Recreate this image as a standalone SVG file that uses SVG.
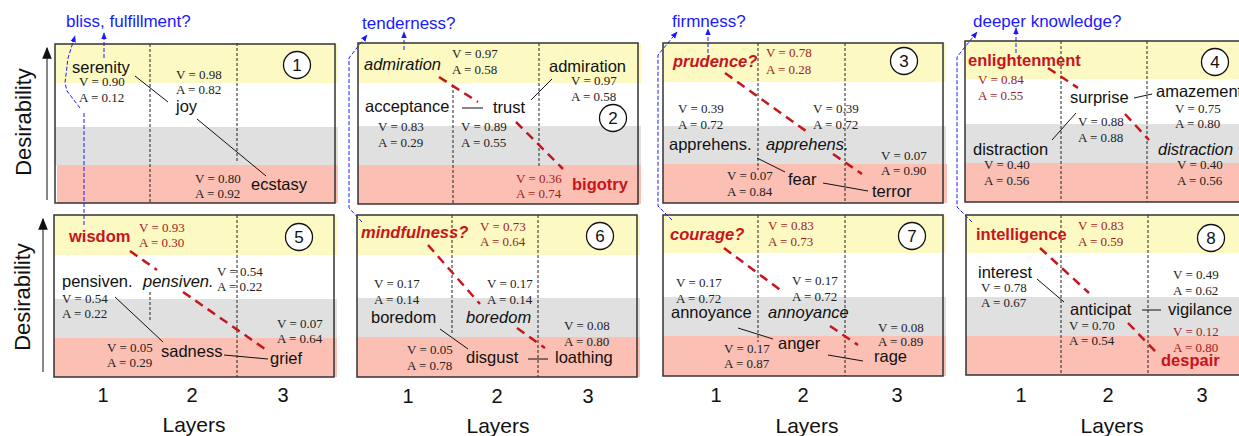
<svg xmlns="http://www.w3.org/2000/svg" width="1239" height="436" viewBox="0 0 1239 436">
<defs>
<style>
.lb{font-family:"Liberation Sans",Arial,sans-serif;font-size:16.5px;fill:#111}
.it{font-style:italic}
.rb{font-weight:bold;fill:#c8141c}
.v{font-family:"Liberation Serif","Times New Roman",serif;font-size:13px;fill:#222}
.vr{fill:#a01c1c}
.bt{font-family:"Liberation Sans",Arial,sans-serif;font-size:17px;fill:#1a1aff}
.num{font-family:"Liberation Sans",Arial,sans-serif;font-size:20px;fill:#111;text-anchor:middle}
.ax{font-family:"Liberation Sans",Arial,sans-serif;font-size:21px;fill:#111;text-anchor:middle}
.ds{font-family:"Liberation Sans",Arial,sans-serif;font-size:22px;fill:#111;text-anchor:middle}
.cn{font-family:"Liberation Sans",Arial,sans-serif;font-size:17px;fill:#111;text-anchor:middle}
.yb{fill:#fcf9c2}.wb{fill:#ffffff}.gb{fill:#e0e0e0}.pb{fill:#fbbfb4}
.box{fill:none;stroke:#333;stroke-width:1.5}
.dv{stroke:#222;stroke-width:1;stroke-dasharray:3,2;fill:none}
.bk{stroke:#111;stroke-width:1;fill:none}
.rd{stroke:#c8141c;stroke-width:2.5;stroke-dasharray:9,6;fill:none}
.bd{stroke:#1a1aff;stroke-width:1;stroke-dasharray:4,2;fill:none}
.ci{fill:#fff;stroke:#111;stroke-width:1.3}
</style>
<marker id="ba" viewBox="0 0 10 10" refX="9" refY="5" markerWidth="7" markerHeight="7" orient="auto-start-reverse" markerUnits="userSpaceOnUse"><path d="M0,1 L10,5 L0,9 z" fill="#1a1aff"/></marker>
<marker id="ka" viewBox="0 0 10 10" refX="9" refY="5" markerWidth="12" markerHeight="12" orient="auto" markerUnits="userSpaceOnUse"><path d="M0,1 L10,5 L0,9 z" fill="#111"/></marker>
</defs>
<rect width="1239" height="436" fill="#fff"/>

<!-- axes -->
<g id="axes">
<line x1="47" y1="200" x2="47" y2="48" class="bk" marker-end="url(#ka)"/>
<text class="ds" transform="translate(31,122) rotate(-90)">Desirability</text>
<line x1="43" y1="372" x2="43" y2="219" class="bk" marker-end="url(#ka)"/>
<text class="ds" transform="translate(30,297) rotate(-90)">Desirability</text>
<text class="num" x="103" y="402">1</text><text class="num" x="192" y="402">2</text><text class="num" x="283" y="402">3</text>
<text class="num" x="408" y="403">1</text><text class="num" x="497" y="403">2</text><text class="num" x="588" y="403">3</text>
<text class="num" x="716" y="402">1</text><text class="num" x="803" y="402">2</text><text class="num" x="897" y="402">3</text>
<text class="num" x="1021" y="402">1</text><text class="num" x="1108" y="402">2</text><text class="num" x="1202" y="402">3</text>
<text class="ax" x="194" y="432">Layers</text>
<text class="ax" x="498" y="433">Layers</text>
<text class="ax" x="807" y="433">Layers</text>
<text class="ax" x="1112" y="433">Layers</text>
</g>

<!-- panel backgrounds -->
<g id="bands">
<rect class="yb" x="55" y="44" width="283" height="39"/><rect class="wb" x="55" y="83" width="283" height="44"/><rect class="gb" x="55" y="127" width="283" height="38"/><rect class="pb" x="57" y="165" width="281" height="38"/>
<rect class="yb" x="358" y="43" width="283" height="40"/><rect class="wb" x="358" y="83" width="283" height="43"/><rect class="gb" x="358" y="126" width="283" height="39"/><rect class="pb" x="358" y="165" width="283" height="39"/>
<rect class="yb" x="663" y="43" width="283" height="39"/><rect class="wb" x="663" y="82" width="283" height="44"/><rect class="gb" x="663" y="126" width="283" height="38"/><rect class="pb" x="663" y="164" width="284" height="39"/>
<rect class="yb" x="965" y="41" width="280" height="38"/><rect class="wb" x="965" y="79" width="280" height="45"/><rect class="gb" x="965" y="124" width="280" height="39"/><rect class="pb" x="965" y="163" width="280" height="39"/>
<rect class="yb" x="54" y="215" width="283" height="40"/><rect class="wb" x="54" y="255" width="283" height="44"/><rect class="gb" x="54" y="299" width="283" height="39"/><rect class="pb" x="54" y="338" width="283" height="39"/>
<rect class="yb" x="357" y="215" width="283" height="40"/><rect class="wb" x="357" y="255" width="283" height="43"/><rect class="gb" x="357" y="298" width="283" height="39"/><rect class="pb" x="357" y="337" width="283" height="40"/>
<rect class="yb" x="663" y="215" width="283" height="38"/><rect class="wb" x="663" y="253" width="283" height="44"/><rect class="gb" x="663" y="297" width="283" height="39"/><rect class="pb" x="663" y="336" width="283" height="40"/>
<rect class="yb" x="966" y="215" width="280" height="38"/><rect class="wb" x="966" y="253" width="280" height="44"/><rect class="gb" x="966" y="297" width="280" height="39"/><rect class="pb" x="966" y="336" width="280" height="39"/>
</g>

<g id="layer-dividers">
<line class="dv" x1="150" y1="44" x2="150" y2="203"/><line class="dv" x1="237" y1="43" x2="237" y2="163"/>
<line class="dv" x1="453" y1="85" x2="453" y2="205"/><line class="dv" x1="539" y1="43" x2="539" y2="167"/>
<line class="dv" x1="758" y1="43" x2="758" y2="170"/><line class="dv" x1="845" y1="43" x2="845" y2="203"/>
<line class="dv" x1="1061" y1="41" x2="1061" y2="202"/><line class="dv" x1="1147" y1="41" x2="1147" y2="202"/>
<line class="dv" x1="150" y1="292" x2="150" y2="322"/><line class="dv" x1="237" y1="215" x2="237" y2="377"/>
<line class="dv" x1="452" y1="215" x2="452" y2="335"/><line class="dv" x1="538" y1="215" x2="538" y2="377"/>
<line class="dv" x1="758" y1="215" x2="758" y2="342"/><line class="dv" x1="845" y1="215" x2="845" y2="376"/>
<line class="dv" x1="1061" y1="215" x2="1061" y2="375"/><line class="dv" x1="1148" y1="215" x2="1148" y2="375"/>
</g>

<g id="connectors">
<!-- black -->
<line class="bk" x1="135" y1="76" x2="168" y2="102"/>
<line class="bk" x1="197" y1="119" x2="266" y2="176"/>
<line class="bk" x1="462" y1="108" x2="483" y2="108"/>
<line class="bk" x1="531" y1="100" x2="552" y2="79"/>
<line class="bk" x1="757" y1="158" x2="785" y2="172"/>
<line class="bk" x1="823" y1="183" x2="868" y2="191"/>
<line class="bk" x1="1134" y1="98" x2="1152" y2="94"/>
<line class="bk" x1="1076" y1="113" x2="1052" y2="140"/>
<line class="bk" x1="115" y1="297" x2="163" y2="342"/>
<line class="bk" x1="224" y1="355" x2="268" y2="359"/>
<line class="bk" x1="440" y1="329" x2="468" y2="349"/>
<line class="bk" x1="528" y1="359" x2="548" y2="359"/>
<line class="bk" x1="738" y1="328" x2="773" y2="339"/>
<line class="bk" x1="828" y1="355" x2="863" y2="361"/>
<line class="bk" x1="1037" y1="279" x2="1064" y2="302"/>
<line class="bk" x1="1142" y1="310" x2="1161" y2="310"/>
<!-- red dashed -->
<line class="rd" x1="439" y1="77" x2="478" y2="102"/>
<line class="rd" x1="516" y1="122" x2="563" y2="169"/>
<line class="rd" x1="725" y1="73" x2="806" y2="131"/>
<line class="rd" x1="833" y1="154" x2="862" y2="174"/>
<line class="rd" x1="1048" y1="68" x2="1078" y2="88"/>
<line class="rd" x1="1125" y1="114" x2="1149" y2="140"/>
<line class="rd" x1="130" y1="251" x2="157" y2="270"/>
<line class="rd" x1="183" y1="292" x2="265" y2="349"/>
<line class="rd" x1="428" y1="245" x2="480" y2="304"/>
<line class="rd" x1="517" y1="328" x2="545" y2="348"/>
<line class="rd" x1="724" y1="248" x2="783" y2="292"/>
<line class="rd" x1="830" y1="326" x2="858" y2="345"/>
<line class="rd" x1="1040" y1="248" x2="1089" y2="293"/>
<line class="rd" x1="1128" y1="323" x2="1156" y2="352"/>
<!-- blue dashed -->
<line class="bd" x1="104" y1="58" x2="104" y2="33" marker-end="url(#ba)"/>
<polyline class="bd" points="80,108 67,91 65,83 68,58 75,36" marker-end="url(#ba)"/>
<line class="bd" x1="84" y1="113" x2="84" y2="226"/>
<line class="bd" x1="404" y1="50" x2="404" y2="32" marker-end="url(#ba)"/>
<polyline class="bd" points="362,222 349,208 349,58 367,35" marker-end="url(#ba)"/>
<line class="bd" x1="708" y1="53" x2="708" y2="29" marker-end="url(#ba)"/>
<polyline class="bd" points="672,220 658,206 658,55 677,32" marker-end="url(#ba)"/>
<line class="bd" x1="1016" y1="53" x2="1016" y2="28" marker-end="url(#ba)"/>
<polyline class="bd" points="972,222 957,207 957,57 977,32" marker-end="url(#ba)"/>
</g>

<g id="questions">
<text class="bt" x="66" y="27">bliss, fulfillment?</text>
<text class="bt" x="362" y="29">tenderness?</text>
<text class="bt" x="672" y="27">firmness?</text>
<text class="bt" x="973" y="27">deeper knowledge?</text>
</g>

<g id="panel1">
<rect class="box" x="55" y="44" width="280" height="159"/>
<circle class="ci" cx="297" cy="65" r="13.5"/><text class="cn" x="297" y="71">1</text>
<g id="serenity"><text class="lb" x="72" y="73">serenity</text><text class="v" x="79" y="86">V = 0.90<tspan x="79" dy="16">A = 0.12</tspan></text></g>
<g id="joy"><text class="lb" x="176" y="112">joy</text><text class="v" x="176" y="79">V = 0.98<tspan x="176" dy="15">A = 0.82</tspan></text></g>
<g id="ecstasy"><text class="lb" x="251" y="190">ecstasy</text><text class="v" x="195" y="183">V = 0.80<tspan x="195" dy="15">A = 0.92</tspan></text></g>
</g>

<g id="panel2">
<rect class="box" x="358" y="43" width="280" height="161"/>
<circle class="ci" cx="613" cy="118" r="13.5"/><text class="cn" x="613" y="124">2</text>
<g id="admiration-it"><text class="lb it" x="364" y="70">admiration</text><text class="v" x="452" y="58">V = 0.97<tspan x="452" dy="16">A = 0.58</tspan></text></g>
<g id="admiration"><text class="lb" x="549" y="72">admiration</text><text class="v" x="571" y="85">V = 0.97<tspan x="571" dy="16">A = 0.58</tspan></text></g>
<g id="acceptance"><text class="lb" x="365" y="112">acceptance</text><text class="v" x="378" y="131">V = 0.83<tspan x="378" dy="16">A = 0.29</tspan></text></g>
<g id="trust"><text class="lb" x="493" y="113">trust</text><text class="v" x="461" y="131">V = 0.89<tspan x="461" dy="16">A = 0.55</tspan></text></g>
<g id="bigotry"><text class="lb rb" x="572" y="190">bigotry</text><text class="v vr" x="516" y="183">V = 0.36<tspan x="516" dy="15">A = 0.74</tspan></text></g>
</g>

<g id="panel3">
<rect class="box" x="663" y="43" width="280" height="160"/>
<circle class="ci" cx="904" cy="61" r="13.5"/><text class="cn" x="904" y="67">3</text>
<g id="prudence"><text class="lb rb it" x="673" y="67">prudence?</text><text class="v vr" x="766" y="57">V = 0.78<tspan x="766" dy="17">A = 0.28</tspan></text></g>
<g id="apprehens"><text class="lb" x="669" y="150">apprehens.</text><text class="v" x="678" y="113">V = 0.39<tspan x="678" dy="16">A = 0.72</tspan></text></g>
<g id="apprehens-it"><text class="lb it" x="766" y="150">apprehens.</text><text class="v" x="813" y="113">V = 0.39<tspan x="813" dy="16">A = 0.72</tspan></text></g>
<g id="fear"><text class="lb" x="788" y="185">fear</text><text class="v" x="727" y="180">V = 0.07<tspan x="727" dy="16">A = 0.84</tspan></text></g>
<g id="terror"><text class="lb" x="872" y="197">terror</text><text class="v" x="881" y="160">V = 0.07<tspan x="881" dy="15">A = 0.90</tspan></text></g>
</g>

<g id="panel4">
<rect class="box" x="965" y="41" width="285" height="161"/>
<circle class="ci" cx="1215" cy="62" r="13.5"/><text class="cn" x="1215" y="68">4</text>
<g id="enlightenment"><text class="lb rb" x="968" y="66">enlightenment</text><text class="v vr" x="978" y="84">V = 0.84<tspan x="978" dy="16">A = 0.55</tspan></text></g>
<g id="surprise"><text class="lb" x="1070" y="103">surprise</text><text class="v" x="1078" y="126">V = 0.88<tspan x="1078" dy="16">A = 0.88</tspan></text></g>
<g id="amazement"><text class="lb" x="1156" y="97">amazement</text><text class="v" x="1175" y="113">V = 0.75<tspan x="1175" dy="15">A = 0.80</tspan></text></g>
<g id="distraction"><text class="lb" x="973" y="155">distraction</text><text class="v" x="984" y="169">V = 0.40<tspan x="984" dy="16">A = 0.56</tspan></text></g>
<g id="distraction-it"><text class="lb it" x="1158" y="155">distraction</text><text class="v" x="1177" y="169">V = 0.40<tspan x="1177" dy="16">A = 0.56</tspan></text></g>
</g>

<g id="panel5">
<rect class="box" x="54" y="215" width="280" height="162"/>
<circle class="ci" cx="299" cy="237" r="13.5"/><text class="cn" x="299" y="243">5</text>
<g id="wisdom"><text class="lb rb" x="69" y="242">wisdom</text><text class="v vr" x="139" y="232">V = 0.93<tspan x="139" dy="15">A = 0.30</tspan></text></g>
<g id="pensiven"><text class="lb" x="62" y="287">pensiven.</text><text class="v" x="62" y="303">V = 0.54<tspan x="62" dy="15">A = 0.22</tspan></text></g>
<g id="pensiven-it"><text class="lb it" x="143" y="287">pensiven.</text><text class="v" x="217" y="276">V = 0.54<tspan x="217" dy="15">A = 0.22</tspan></text></g>
<g id="sadness"><text class="lb" x="161" y="357">sadness</text><text class="v" x="107" y="352">V = 0.05<tspan x="107" dy="15">A = 0.29</tspan></text></g>
<g id="grief"><text class="lb" x="270" y="364">grief</text><text class="v" x="277" y="328">V = 0.07<tspan x="277" dy="15">A = 0.64</tspan></text></g>
</g>

<g id="panel6">
<rect class="box" x="357" y="215" width="280" height="162"/>
<circle class="ci" cx="600" cy="236" r="13.5"/><text class="cn" x="600" y="242">6</text>
<g id="mindfulness"><text class="lb rb it" x="361" y="238">mindfulness?</text><text class="v vr" x="480" y="231">V = 0.73<tspan x="480" dy="15">A = 0.64</tspan></text></g>
<g id="boredom"><text class="lb" x="371" y="323">boredom</text><text class="v" x="374" y="288">V = 0.17<tspan x="374" dy="16">A = 0.14</tspan></text></g>
<g id="boredom-it"><text class="lb it" x="466" y="323">boredom</text><text class="v" x="487" y="288">V = 0.17<tspan x="487" dy="16">A = 0.14</tspan></text></g>
<g id="disgust"><text class="lb" x="466" y="363">disgust</text><text class="v" x="407" y="354">V = 0.05<tspan x="407" dy="16">A = 0.78</tspan></text></g>
<g id="loathing"><text class="lb" x="555" y="363">loathing</text><text class="v" x="564" y="330">V = 0.08<tspan x="564" dy="16">A = 0.80</tspan></text></g>
</g>

<g id="panel7">
<rect class="box" x="663" y="215" width="280" height="161"/>
<circle class="ci" cx="912" cy="236" r="13.5"/><text class="cn" x="912" y="242">7</text>
<g id="courage"><text class="lb rb it" x="670" y="240">courage?</text><text class="v vr" x="768" y="230">V = 0.83<tspan x="768" dy="16">A = 0.73</tspan></text></g>
<g id="annoyance"><text class="lb" x="671" y="318">annoyance</text><text class="v" x="676" y="287">V = 0.17<tspan x="676" dy="16">A = 0.72</tspan></text></g>
<g id="annoyance-it"><text class="lb it" x="768" y="318">annoyance</text><text class="v" x="792" y="285">V = 0.17<tspan x="792" dy="16">A = 0.72</tspan></text></g>
<g id="anger"><text class="lb" x="778" y="349">anger</text><text class="v" x="724" y="353">V = 0.17<tspan x="724" dy="15">A = 0.87</tspan></text></g>
<g id="rage"><text class="lb" x="874" y="362">rage</text><text class="v" x="878" y="332">V = 0.08<tspan x="878" dy="14">A = 0.89</tspan></text></g>
</g>

<g id="panel8">
<rect class="box" x="966" y="215" width="284" height="160"/>
<circle class="ci" cx="1211" cy="238" r="13.5"/><text class="cn" x="1211" y="244">8</text>
<g id="intelligence"><text class="lb rb" x="976" y="240">intelligence</text><text class="v vr" x="1078" y="230">V = 0.83<tspan x="1078" dy="16">A = 0.59</tspan></text></g>
<g id="interest"><text class="lb" x="978" y="278">interest</text><text class="v" x="981" y="292">V = 0.78<tspan x="981" dy="15">A = 0.67</tspan></text></g>
<g id="anticipat"><text class="lb" x="1070" y="315">anticipat</text><text class="v" x="1069" y="330">V = 0.70<tspan x="1069" dy="15">A = 0.54</tspan></text></g>
<g id="vigilance"><text class="lb" x="1168" y="315">vigilance</text><text class="v" x="1173" y="279">V = 0.49<tspan x="1173" dy="16">A = 0.62</tspan></text></g>
<g id="despair"><text class="lb rb" x="1161" y="366">despair</text><text class="v vr" x="1173" y="336">V = 0.12<tspan x="1173" dy="16">A = 0.80</tspan></text></g>
</g>
</svg>
